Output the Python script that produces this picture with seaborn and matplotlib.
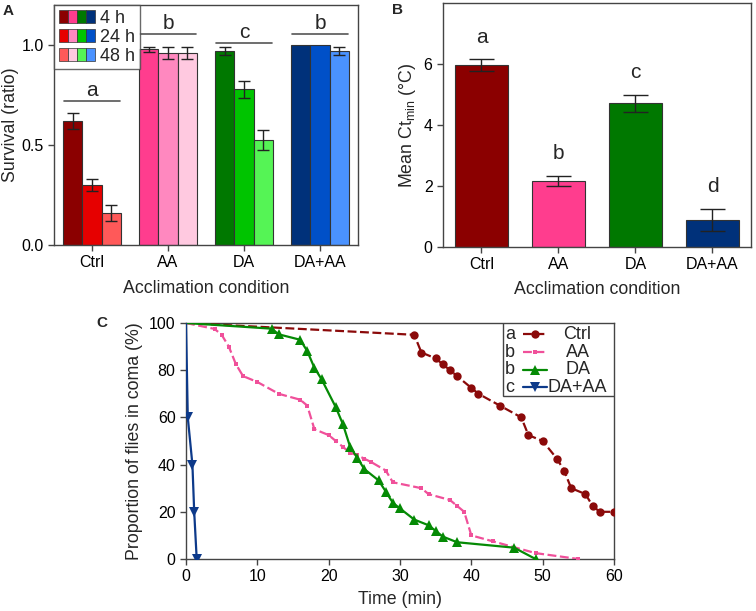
import numpy as np
import pandas as pd
import matplotlib
matplotlib.use("Agg")
import matplotlib.pyplot as plt
import seaborn as sns
from matplotlib.patches import Patch, Rectangle
from matplotlib.lines import Line2D
from matplotlib.legend_handler import HandlerTuple

# ---- data -------------------------------------------------------------
CONDITIONS = ["Ctrl", "AA", "DA", "DA+AA"]
TIMES = ["4 h", "24 h", "48 h"]

# panel A: survival ratio after 4/24/48 h
SURV_CTRL = [0.62, 0.30, 0.16]
SURV_AA = [0.978, 0.958, 0.958]
SURV_DA = [0.97, 0.778, 0.525]
SURV_DAAA = [1.0, 1.0, 0.97]
ERR_CTRL = [0.04, 0.03, 0.04]
ERR_AA = [0.012, 0.03, 0.03]
ERR_DA = [0.02, 0.044, 0.05]
ERR_DAAA = [0.0, 0.0, 0.02]
SIG_A_LETTERS = ["a", "b", "c", "b"]
SIG_A_LEVEL = [0.72, 1.053, 1.008, 1.053]

COLORS_A = {
    "Ctrl": ["#8b0000", "#e60000", "#ff5959"],
    "AA": ["#ff3d8e", "#ff88bf", "#ffc9e0"],
    "DA": ["#007800", "#00c400", "#55f455"],
    "DA+AA": ["#00317a", "#0050c8", "#4a92ff"],
}

# panel B: mean CTmin
CTMIN = [5.96, 2.16, 4.71, 0.90]
CTMIN_ERR = [0.20, 0.17, 0.28, 0.36]
SIG_B_LETTERS = ["a", "b", "c", "d"]
COLORS_B = ["#8b0000", "#ff3d8e", "#007800", "#00317a"]

# panel C: proportion of flies in coma over time
CTRL_T = [0, 32, 33, 35, 36, 37, 38, 40, 41, 44, 47, 48, 50, 52, 53, 54, 56, 57, 58, 60]
CTRL_P = [100, 95, 87.5, 85, 82.5, 80, 77.5, 72.5, 70, 65, 60, 52.5, 50, 42.5, 37.5,
          30, 27.5, 22.5, 20, 20]
AA_T = [0, 4, 5, 6, 7, 8, 10, 13, 16, 17, 18, 20, 21, 22, 23, 24, 25, 26, 28, 29,
        33, 34, 37, 38, 39, 40, 43, 49, 55]
AA_P = [100, 97.5, 95, 90, 82.5, 77.5, 75, 70, 67.5, 65, 55, 52.5, 50, 47.5, 45, 44,
        42.5, 41, 37.5, 32.5, 30, 27.5, 25, 22.5, 20, 10, 7.5, 2.5, 0]
DA_T = [0, 12, 13, 16, 17, 18, 19, 21, 22, 23, 24, 25, 27, 28, 29, 30, 32, 34, 35,
        36, 38, 46, 49]
DA_P = [100, 97.6, 95.2, 92.9, 88.1, 81.0, 76.2, 64.3, 57.1, 47.6, 42.9, 38.1, 33.3,
        28.6, 23.8, 21.4, 16.7, 14.3, 11.9, 9.5, 7.1, 4.8, 0]
DAAA_T = [0, 0.25, 0.9, 1.15, 1.5]
DAAA_P = [100, 60, 40, 20, 0]
SIG_C_LETTERS = ["a", "b", "b", "c"]

# ---- style ------------------------------------------------------------
sns.set_theme(style="ticks")
plt.rcParams["font.family"] = ["Liberation Sans", "DejaVu Sans"]
plt.rcParams["mathtext.fontset"] = "custom"
plt.rcParams["mathtext.rm"] = "Liberation Sans"
plt.rcParams["mathtext.it"] = "Liberation Sans:italic"

SPINE = "#444444"
TICK_FS = 11.5
LABEL_FS = 12.8


def style_axes(ax):
    for s in ax.spines.values():
        s.set_color(SPINE)
        s.set_linewidth(1.0)
    ax.tick_params(direction="out", length=4, width=1, color=SPINE,
                   labelsize=TICK_FS, labelcolor="black")


fig = plt.figure(figsize=(7.56, 6.11), dpi=100)
W, H = 756, 611


def px_axes(left, top, right, bottom):
    return fig.add_axes([left / W, 1 - bottom / H, (right - left) / W, (bottom - top) / H])


ax_a = px_axes(54, 5, 358, 245)
ax_b = px_axes(443, 3, 751, 247)
ax_c = px_axes(186, 323, 614, 559)

# ---- panel A ----------------------------------------------------------
df_a = pd.DataFrame({
    "cond": np.repeat(CONDITIONS, len(TIMES)),
    "time": TIMES * len(CONDITIONS),
    "surv": SURV_CTRL + SURV_AA + SURV_DA + SURV_DAAA,
    "err": ERR_CTRL + ERR_AA + ERR_DA + ERR_DAAA,
})
sns.barplot(data=df_a, x="cond", y="surv", hue="time", order=CONDITIONS,
            hue_order=TIMES, palette=["#888888"] * 3, saturation=1, width=0.76,
            edgecolor="#333333", linewidth=0.8, errorbar=None, legend=False, ax=ax_a)

bars = sorted([p for p in ax_a.patches if p.get_width() > 0], key=lambda p: p.get_x())
flat_colors = [c for cond in CONDITIONS for c in COLORS_A[cond]]
for bar, col in zip(bars, flat_colors):
    bar.set_facecolor(col)

centers = np.array([b.get_x() + b.get_width() / 2 for b in bars])
heights = df_a["surv"].to_numpy()
errs = df_a["err"].to_numpy()
mask = errs > 0
ax_a.errorbar(centers[mask], heights[mask], yerr=errs[mask], fmt="none",
              ecolor="#222222", elinewidth=1, capsize=4.5, capthick=1)

for i, (letter, lvl) in enumerate(zip(SIG_A_LETTERS, SIG_A_LEVEL)):
    ax_a.plot([i - 0.365, i + 0.365], [lvl, lvl], color="#555555", lw=1.2)
    ax_a.text(i, lvl + 0.025, letter, ha="center", va="baseline", fontsize=15)

ax_a.set_ylim(0, 1.2)
ax_a.set_xlim(-0.5, 3.5)
ax_a.set_yticks([0, 0.5, 1.0])
ax_a.set_yticklabels(["0.0", "0.5", "1.0"])
ax_a.set_xlabel("Acclimation condition", fontsize=LABEL_FS, labelpad=7)
ax_a.set_ylabel("Survival (ratio)", fontsize=LABEL_FS)
ax_a.yaxis.set_label_coords(-0.115, 0.5)
style_axes(ax_a)

legend_handles = []
for k in range(len(TIMES)):
    legend_handles.append(tuple(
        Patch(facecolor=COLORS_A[cond][k], edgecolor="#333333", linewidth=0.5)
        for cond in CONDITIONS))
leg = ax_a.legend(legend_handles, TIMES, loc="upper left", borderaxespad=0,
                  handler_map={tuple: HandlerTuple(ndivide=None, pad=0)},
                  handlelength=2.0, handleheight=0.75, handletextpad=0.3,
                  labelspacing=0.12, borderpad=0.25, fontsize=13,
                  frameon=True, fancybox=False)
leg.get_frame().set_edgecolor(SPINE)
leg.get_frame().set_linewidth(1.0)

# ---- panel B ----------------------------------------------------------
sns.barplot(x=CONDITIONS, y=CTMIN, hue=CONDITIONS, palette=COLORS_B, saturation=1,
            width=0.68, edgecolor="#333333", linewidth=0.8, errorbar=None,
            legend=False, ax=ax_b)
ax_b.errorbar(np.arange(len(CONDITIONS)), CTMIN, yerr=CTMIN_ERR, fmt="none",
              ecolor="#222222", elinewidth=1, capsize=9, capthick=1)
for i, letter in enumerate(SIG_B_LETTERS):
    ax_b.text(i, CTMIN[i] + CTMIN_ERR[i] + 0.72, letter, ha="center", va="center",
              fontsize=15)
ax_b.set_ylim(0, 8)
ax_b.set_xlim(-0.5, 3.5)
ax_b.set_yticks([0, 2, 4, 6])
ax_b.set_xlabel("Acclimation condition", fontsize=LABEL_FS, labelpad=6)
ax_b.set_ylabel("Mean Ct$_{\\mathrm{min}}$ (°C)", fontsize=LABEL_FS)
style_axes(ax_b)

# ---- panel C ----------------------------------------------------------
series_c = [
    ("Ctrl", CTRL_T, CTRL_P, "#8b0a0a", (0, (4, 1.6)), "o", 6),
    ("AA", AA_T, AA_P, "#f0509a", (0, (4, 1.6)), "s", 3.5),
    ("DA", DA_T, DA_P, "#058a05", "-", "^", 6.5),
    ("DA+AA", DAAA_T, DAAA_P, "#0d3a8a", "-", "v", 6.5),
]
for name, t, p, col, ls, mk, ms in series_c:
    sns.lineplot(x=t, y=p, color=col, linestyle=ls, marker=mk, markersize=ms,
                 markeredgewidth=0, linewidth=1.6, markevery=slice(1, None),
                 errorbar=None, ax=ax_c)

ax_c.set_xlim(0, 60)
ax_c.set_ylim(0, 100)
ax_c.set_xticks(range(0, 61, 10))
ax_c.set_yticks(range(0, 101, 20))
ax_c.set_xlabel("Time (min)", fontsize=LABEL_FS, labelpad=5)
ax_c.set_ylabel("Proportion of flies in coma (%)", fontsize=LABEL_FS, labelpad=4)
style_axes(ax_c)
for sp in ax_c.spines.values():
    sp.set_zorder(0.5)

# hand-built legend with significance letters in front of the line samples
ax_c.add_patch(Rectangle((0.74, 0.69), 0.26, 0.31, transform=ax_c.transAxes,
                         facecolor="white", edgecolor=SPINE, lw=1.0, zorder=4))
rows_y = [0.953, 0.876, 0.801, 0.727]
for (name, t, p, col, ls, mk, ms), letter, y in zip(series_c, SIG_C_LETTERS, rows_y):
    ax_c.text(0.757, y, letter, transform=ax_c.transAxes, ha="center", va="center",
              fontsize=13, zorder=5)
    ax_c.add_line(Line2D([0.787, 0.815, 0.843], [y, y, y], transform=ax_c.transAxes,
                         color=col, linestyle=ls, marker=mk, markersize=ms,
                         markeredgewidth=0, linewidth=1.6, markevery=[1], zorder=5))
    ax_c.text(0.915, y, name, transform=ax_c.transAxes, ha="center", va="center",
              fontsize=13, zorder=5)

# panel letters
fig.text(3 / W, 1 - 4 / H, "A", fontsize=11, fontweight="bold", va="top")
fig.text(392 / W, 1 - 3 / H, "B", fontsize=11, fontweight="bold", va="top")
fig.text(96 / W, 1 - 316 / H, "C", fontsize=11, fontweight="bold", va="top")

fig.savefig("out.png", dpi=100)
